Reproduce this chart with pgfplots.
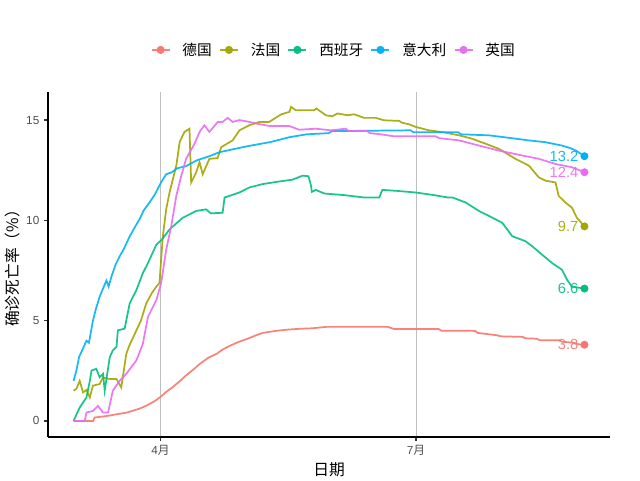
\documentclass[border=0pt]{standalone}
\usepackage{fontspec}
\setmainfont{Liberation Sans}
\newfontfamily\cjk{Noto Sans CJK SC}
\usepackage{pgfplots}
\pgfplotsset{compat=1.18}
\definecolor{cDE}{HTML}{F8766D}
\definecolor{cFR}{HTML}{A3A500}
\definecolor{cES}{HTML}{00BF7D}
\definecolor{cIT}{HTML}{00B0F6}
\definecolor{cUK}{HTML}{E76BF3}
\definecolor{tickgray}{HTML}{4D4D4D}
\begin{document}
\begin{tikzpicture}
\useasboundingbox (0pt,0pt) rectangle (480pt,360pt);
\begin{axis}[
  at={(36pt,32.25pt)}, anchor=south west,
  scale only axis, width=421.5pt, height=258.75pt,
  xmin=-9.1, xmax=191.1, ymin=-0.8, ymax=16.4,
  axis x line*=bottom, axis y line*=left,
  axis line style={line width=1.4pt, black},
  xtick={31,122}, xticklabels={4{\cjk 月}, 7{\cjk 月}},
  ytick={0,5,10,15},
  tick align=outside, major tick length=3pt,
  tick style={line width=1.1pt, color=black!80},
  /pgf/number format/assume math mode=true,
  tick label style={font=\fontsize{8.8}{10}\selectfont, text=tickgray},
  xmajorgrids, major grid style={color=gray!50, line width=0.75pt},
  xlabel={\cjk 日期},
  ylabel={\cjk 确诊死亡率（\%）},
  label style={font=\fontsize{11.8}{13}\selectfont},
  xlabel style={at={(axis description cs:0.5,-0.096)}, anchor=center},
  ylabel style={at={(axis description cs:-0.064,0.5)}, anchor=center},
  legend columns=5,
  legend style={at={(axis description cs:0.509,1.122)}, anchor=center, draw=none,
    font=\cjk\fontsize{11}{13}\selectfont, column sep=7pt,
    /tikz/every even column/.append style={column sep=3.5pt}},
  legend image code/.code={\draw[#1, line width=1.3pt] (0pt,0pt) -- (13.5pt,0pt); \fill[#1] (6.75pt,0pt) circle (2.4pt);},
  every axis plot/.append style={line width=1.3pt},
  clip=false,
]
% Germany
\addplot[color=cDE, opacity=0.9] coordinates {
(0,0) (7,0) (7.5,0.17) (12,0.25) (16,0.35) (19,0.42) (23,0.59) (25,0.7) (27,0.84) (29,1.0) (31,1.2) (33,1.45) (35,1.65) (38,2.0) (40,2.26) (43,2.6) (45,2.85) (48,3.15) (51,3.35) (53,3.55) (56,3.77) (59,3.95) (62,4.1) (65,4.27) (67.4,4.39) (72,4.49) (76,4.55) (80,4.59) (85,4.62) (90,4.69) (112,4.69) (114,4.59) (130,4.59) (131,4.5) (143,4.49) (144,4.39) (151,4.27) (152,4.22) (160,4.19) (161,4.12) (165,4.1) (166,4.03) (173,4.02) (174,3.95) (178,3.9) (180,3.82) (182,3.8)
};
\addlegendentry{德国}
% France
\addplot[color=cFR, opacity=0.9] coordinates {
(0,1.51) (1,1.6) (2.2,2.0) (3.4,1.42) (4.6,1.55) (5.8,1.17) (6.9,1.76) (9.3,1.84) (10.5,2.18) (12,2.1) (15.3,2.09) (17,1.67) (18.8,3.35) (20,3.8) (22.4,4.52) (24,5.0) (25.9,5.86) (28,6.4) (29.5,6.7) (30.6,6.87) (31.8,9.2) (33,10.55) (34.2,11.39) (36.6,12.73) (37.8,13.9) (39.5,14.41) (41.3,14.57) (41.9,11.89) (43.7,12.4) (44.9,12.9) (46,12.3) (48.4,13.07) (51.3,13.1) (52.6,13.65) (56.7,13.99) (59.1,14.49) (62.6,14.74) (66.2,14.91) (69.7,14.91) (73.9,15.28) (76.9,15.41) (77.5,15.66) (79.2,15.49) (85.7,15.49) (86.5,15.58) (89.9,15.24) (92.2,15.19) (94,15.33) (97.6,15.24) (100,15.29) (103.5,15.11) (107.6,15.11) (110.6,14.99) (116,14.96) (117,14.87) (119.5,14.79) (121.9,14.66) (126.6,14.49) (131.4,14.4) (137.3,14.24) (142,14.07) (146.8,13.82) (151.5,13.57) (157.4,13.07) (162.2,12.73) (165.7,12.15) (168.1,11.98) (171.7,11.89) (172.8,11.22) (175.2,10.89) (177.5,10.64) (179.3,10.13) (182,9.7)
};
\addlegendentry{法国}
% Spain
\addplot[color=cES, opacity=0.9] coordinates {
(0,0) (2.2,0.67) (4.6,1.17) (5.8,2.0) (6.4,2.51) (8.1,2.6) (9.3,2.18) (10.5,2.35) (11.1,1.51) (12.9,3.18) (14,3.52) (15.3,3.69) (15.8,4.52) (18.2,4.6) (20,5.86) (22.4,6.53) (24.7,7.37) (26.5,7.87) (29.5,8.79) (31.2,9.0) (34.2,9.55) (38.9,10.13) (43.7,10.47) (47.2,10.55) (48.9,10.35) (53.1,10.38) (53.8,11.14) (59.1,11.39) (62.6,11.64) (67.4,11.81) (73.3,11.94) (78,12.03) (81.6,12.23) (83.7,12.2) (84.6,11.72) (84.9,11.42) (86.3,11.52) (89.3,11.34) (96.4,11.26) (103.5,11.14) (108.9,11.14) (110,11.52) (115.2,11.47) (121.9,11.39) (128.4,11.26) (133.4,11.14) (135,11.14) (139.7,10.89) (144.4,10.47) (148,10.22) (152.7,9.88) (156.3,9.21) (161,8.96) (163.4,8.71) (166.9,8.29) (170.5,7.87) (174,7.54) (175.8,7.04) (177.5,6.7) (182,6.6)
};
\addlegendentry{西班牙}
% Italy
\addplot[color=cIT, opacity=0.9] coordinates {
(0,2.0) (1,2.5) (2,3.2) (3,3.5) (4.6,4.0) (5.5,3.9) (6.9,5.0) (8,5.6) (9.3,6.2) (10.5,6.6) (11.7,7.0) (12.5,6.7) (13.5,7.2) (15,7.8) (16.4,8.2) (18,8.6) (20,9.2) (22,9.7) (23.5,10.05) (25,10.5) (27.1,10.9) (29,11.3) (31.2,11.9) (33,12.3) (35,12.4) (37,12.6) (40,12.7) (44,13.0) (48.4,13.2) (52,13.4) (57,13.55) (62,13.7) (66,13.8) (70,13.9) (77,14.15) (83,14.29) (91,14.35) (92,14.45) (120,14.49) (121,14.4) (137,14.4) (138,14.29) (148,14.24) (156,14.1) (162,13.99) (168,13.9) (174,13.73) (177,13.6) (179,13.48) (182,13.2)
};
\addlegendentry{意大利}
% UK
\addplot[color=cUK, opacity=0.9] coordinates {
(0,0) (4,0) (4.6,0.42) (6.9,0.5) (8.7,0.75) (10.5,0.42) (12.3,0.42) (14,1.51) (16.4,2.0) (18.8,2.35) (22.4,3.02) (24.7,3.85) (26.5,5.19) (29.5,6.03) (31.2,6.87) (33,8.54) (34.8,9.71) (36.6,11.22) (38.4,12.23) (40.1,13.07) (43.1,13.82) (44.9,14.41) (46.6,14.74) (48.4,14.41) (51.4,14.91) (53.1,14.91) (54.9,15.11) (56.7,14.91) (59.1,15.0) (62.6,14.91) (66,14.8) (69.7,14.71) (76.9,14.7) (80.4,14.52) (86.3,14.57) (91.7,14.49) (97,14.57) (98,14.45) (104.7,14.45) (105.5,14.35) (109.5,14.29) (114.2,14.19) (129,14.19) (130.2,14.1) (137.3,13.99) (144.4,13.73) (151.5,13.48) (158.6,13.27) (165.7,13.07) (171.7,12.81) (177.5,12.65) (182,12.4)
};
\addlegendentry{英国}
% end points with labels
\pgfplotsset{endlab/.style={only marks, mark=*, mark size=2.3pt, forget plot,
  nodes near coords, point meta=explicit symbolic,
  every node near coord/.style={anchor=east, xshift=-4pt, inner sep=0pt, font=\fontsize{11}{12}\selectfont, text=#1, opacity=0.9}}}
\addplot[color=cDE, endlab=cDE] coordinates {(182,3.8) [3.8]};
\addplot[color=cFR, endlab=cFR] coordinates {(182,9.7) [9.7]};
\addplot[color=cES, endlab=cES] coordinates {(182,6.6) [6.6]};
\addplot[color=cIT, endlab=cIT] coordinates {(182,13.2) [13.2]};
\addplot[color=cUK, endlab=cUK] coordinates {(182,12.4) [12.4]};
\end{axis}
\end{tikzpicture}
\end{document}
